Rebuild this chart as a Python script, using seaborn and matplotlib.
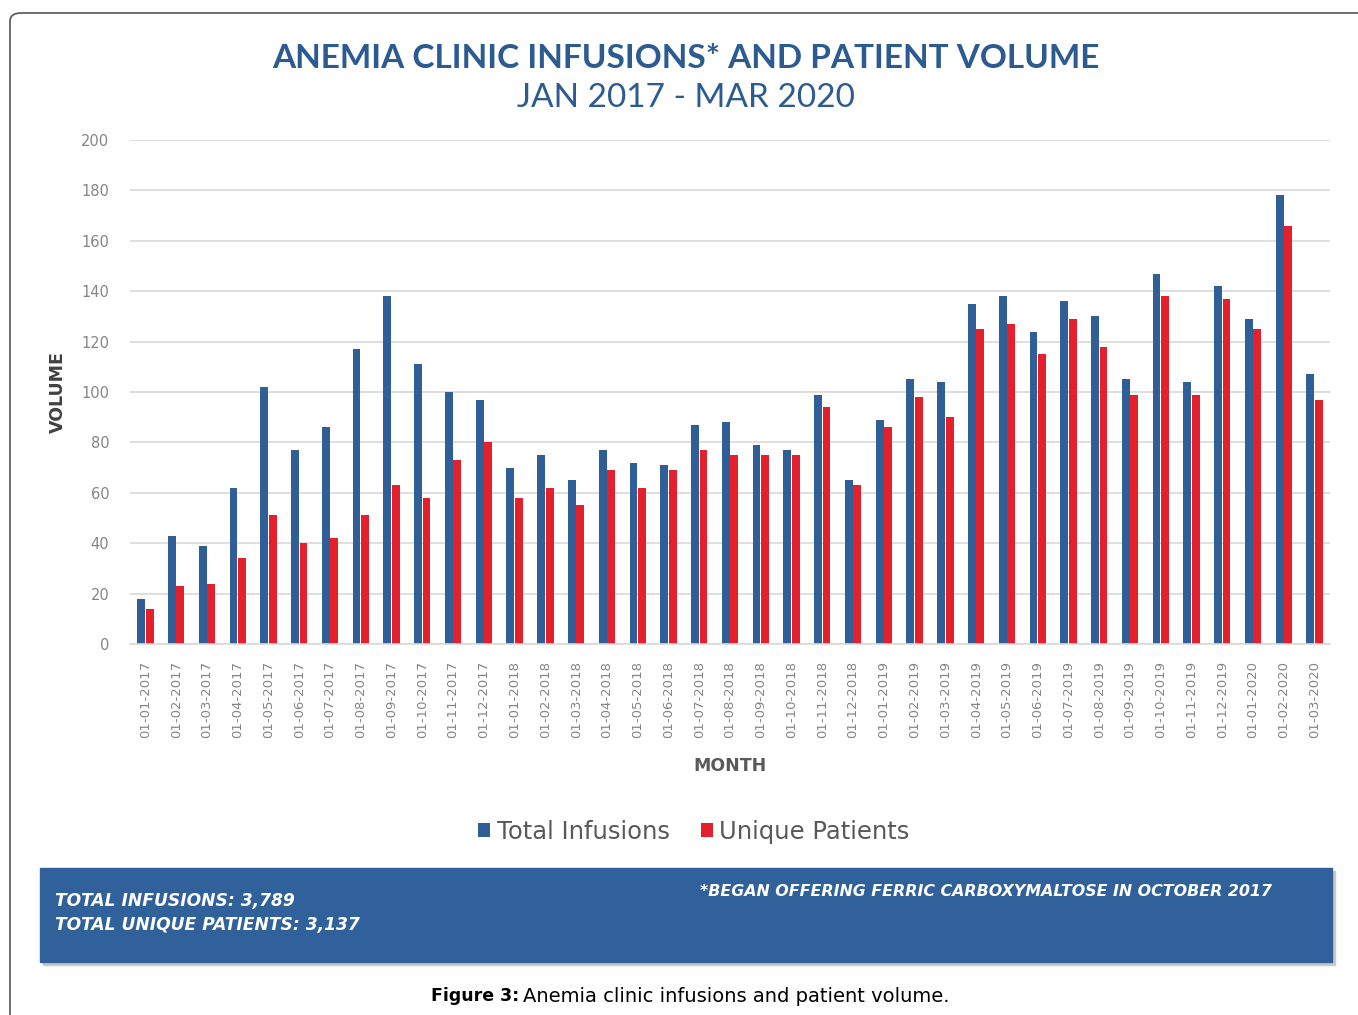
import matplotlib
matplotlib.use("Agg")
import matplotlib.pyplot as plt
from matplotlib.patches import FancyBboxPatch, Rectangle
from matplotlib.ticker import MultipleLocator
import seaborn as sns
import pandas as pd

# monthly values (Jan 2017 - Mar 2020)
months = list(pd.date_range("2017-01-01", "2020-03-01", freq="MS").strftime("%d-%m-%Y"))
total_infusions = [18, 43, 39, 62, 102, 77, 86, 117, 138, 111, 100, 97,
                   70, 75, 65, 77, 72, 71, 87, 88, 79, 77, 99, 65,
                   89, 105, 104, 135, 138, 124, 136, 130, 105, 147, 104, 142,
                   129, 178, 107]
unique_patients = [14, 23, 24, 34, 51, 40, 42, 51, 63, 58, 73, 80,
                   58, 62, 55, 69, 62, 69, 77, 75, 75, 75, 94, 63,
                   86, 98, 90, 125, 127, 115, 129, 118, 99, 138, 99, 137,
                   125, 166, 97]
series_names = ["Total Infusions", "Unique Patients"]

df = pd.DataFrame({"month": months,
                   series_names[0]: total_infusions,
                   series_names[1]: unique_patients})
long = df.melt(id_vars="month", var_name="series", value_name="volume")

BLUE = "#2f5f96"
RED = "#e3202b"
TITLE_BLUE = "#2c5b92"
GRAY = "#858585"

sns.set_style("white")
plt.rcParams['font.family'] = ['DejaVu Sans']

fig = plt.figure(figsize=(13.58, 10.15), dpi=100)
ax = fig.add_axes([130 / 1358, 1 - 644 / 1015, 1200 / 1358, 504 / 1015])

sns.barplot(data=long, x="month", y="volume", hue="series", order=months,
            hue_order=series_names, palette=[BLUE, RED], width=0.55, gap=0.08,
            saturation=1, linewidth=0, ax=ax)

ax.set_ylim(0, 200)
ax.set_xlim(-0.5, len(months) - 0.5)
ax.yaxis.set_major_locator(MultipleLocator(20))
ax.grid(axis="y", color="#d9d9d9", linewidth=1.2)
ax.set_axisbelow(True)
sns.despine(ax=ax, left=True, top=True, right=True)
ax.spines["bottom"].set_color("#d9d9d9")
ax.spines["bottom"].set_linewidth(1.2)

ax.set_xticks(range(len(months)))
ax.set_xticklabels(months, rotation=90, fontsize=9.5, color=GRAY)
ax.tick_params(axis="x", length=0, pad=12)
ax.set_xticks([i - 0.5 for i in range(len(months) + 1)], minor=True)
ax.tick_params(axis="x", which="minor", length=5, color="#d9d9d9", width=1.2)
ax.tick_params(axis="y", length=0, labelsize=10.5, labelcolor=GRAY, pad=15)

ax.set_xlabel("MONTH", fontsize=12.5, fontweight="bold", color="#595959", labelpad=14)
ax.set_ylabel("VOLUME", fontsize=12.5, fontweight="bold", color="#404040", labelpad=10)

ax.legend(loc="upper center", bbox_to_anchor=(0.47, -0.305), ncol=2, frameon=False,
          labelcolor="#595959", handlelength=0.5, handleheight=0.5,
          handletextpad=0.25, columnspacing=1.3, prop={"size": 17.5})

# titles
fig.text(686 / 1358, 1 - 58 / 1015, "ANEMIA CLINIC INFUSIONS* AND PATIENT VOLUME",
         ha="center", va="center", fontsize=24, fontweight="bold", color=TITLE_BLUE,
         family="Lato")
fig.text(686 / 1358, 1 - 98 / 1015, "JAN 2017 - MAR 2020", ha="center", va="center",
         fontsize=24, color=TITLE_BLUE, family="Lato")

# outer rounded frame (runs off the right and bottom edges)
fig.patches.append(FancyBboxPatch((10 / 1358, -0.05), 1.05, (1015 - 13) / 1015 + 0.05,
                                  boxstyle="round,pad=0,rounding_size=0.008",
                                  transform=fig.transFigure, fill=False,
                                  edgecolor="#555555", linewidth=1.2))

# summary band
fig.patches.append(Rectangle((43 / 1358, 1 - 965 / 1015), 1292 / 1358, 94 / 1015,
                             transform=fig.transFigure, color="#c9c9c9", zorder=0))
fig.patches.append(Rectangle((40 / 1358, 1 - 962 / 1015), 1292 / 1358, 94 / 1015,
                             transform=fig.transFigure, color="#30619a", zorder=1))
fig.text(55 / 1358, 1 - 901 / 1015, "TOTAL INFUSIONS: 3,789", ha="left", va="center",
         fontsize=12.3, fontweight="bold", style="italic", color="white")
fig.text(55 / 1358, 1 - 925 / 1015, "TOTAL UNIQUE PATIENTS: 3,137", ha="left", va="center",
         fontsize=12.3, fontweight="bold", style="italic", color="white")
fig.text(700 / 1358, 1 - 892 / 1015, "*BEGAN OFFERING FERRIC CARBOXYMALTOSE IN OCTOBER 2017",
         ha="left", va="center", fontsize=11.4, fontweight="bold", style="italic", color="white")

# caption
fig.text(519 / 1358, 1 - 996 / 1015, "Figure 3:", ha="right", va="center",
         fontsize=12.5, fontweight="bold", color="black")
fig.text(523 / 1358, 1 - 996 / 1015, "Anemia clinic infusions and patient volume.",
         ha="left", va="center", fontsize=14, color="black")

fig.savefig("out.png", dpi=100, facecolor="white")
